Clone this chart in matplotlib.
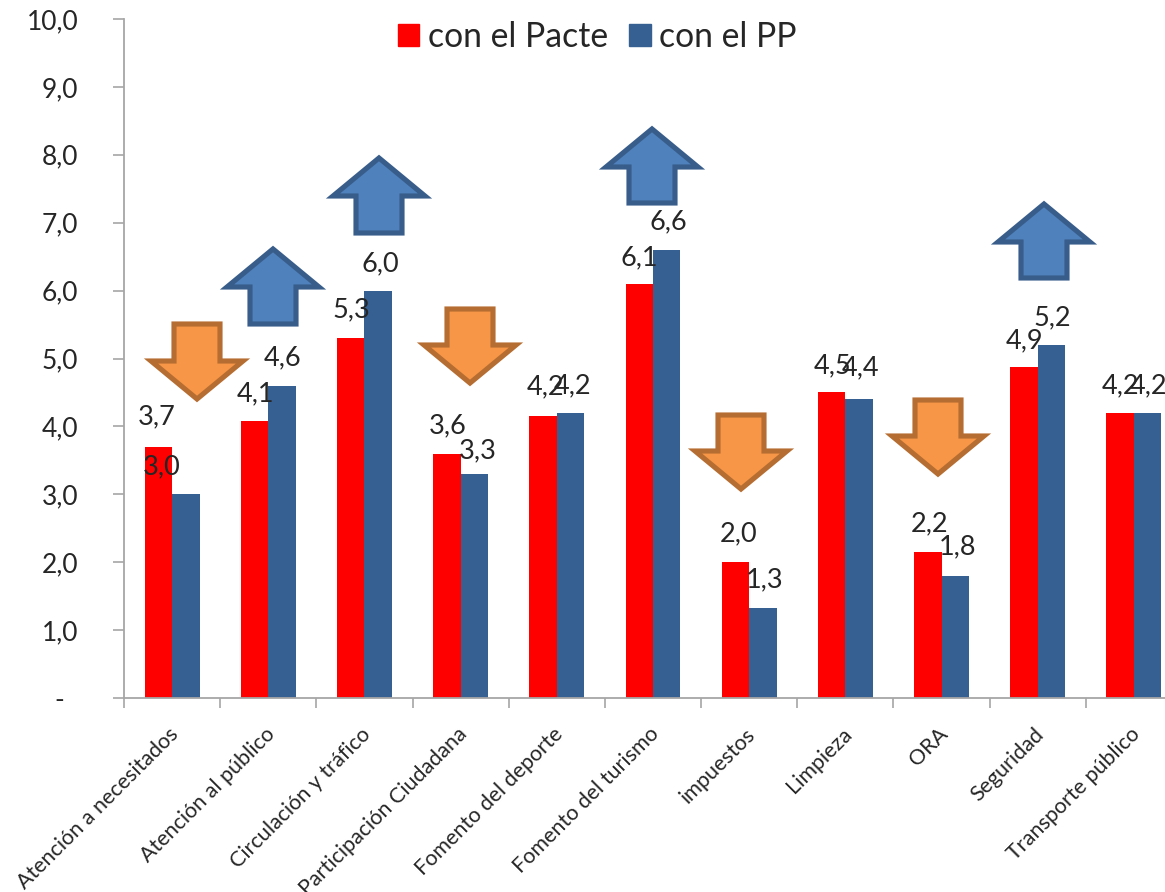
import matplotlib
matplotlib.use("Agg")
import matplotlib.pyplot as plt
import numpy as np
from matplotlib.patches import Polygon, Patch
from matplotlib.transforms import Affine2D

W, H = 1165, 892
categories = ["Atención a necesitados", "Atención al público", "Circulación y tráfico",
              "Participación Ciudadana", "Fomento del deporte", "Fomento del turismo",
              "impuestos", "Limpieza", "ORA", "Seguridad", "Transporte público"]
pacte = [3.7, 4.08, 5.3, 3.6, 4.15, 6.1, 2.0, 4.5, 2.15, 4.87, 4.2]
pp = [3.0, 4.6, 6.0, 3.3, 4.2, 6.6, 1.33, 4.4, 1.8, 5.2, 4.2]
pacte_labels = ["3,7", "4,1", "5,3", "3,6", "4,2", "6,1", "2,0", "4,5", "2,2", "4,9", "4,2"]
pp_labels = ["3,0", "4,6", "6,0", "3,3", "4,2", "6,6", "1,3", "4,4", "1,8", "5,2", "4,2"]
# label offsets from bar top centre, in pixels
pacte_off = [(-2, 30), (1, 27), (1, 28), (1, 28), (2, 29), (0, 26), (3, 28), (1, 27), (2, 28), (1, 27), (0, 27)]
pp_off = [(-24, 27), (1, 28), (2, 27), (3, 23), (2, 27), (2, 28), (2, 28), (1, 31), (2, 29), (1, 27), (1, 27)]
# annotation arrows: tip x, top y, bottom y in image pixels
up_arrows = [(273, 246, 326), (379, 155, 235), (652, 126, 205), (1044, 201, 280)]
down_arrows = [(197, 322, 402), (470, 307, 386), (741, 413, 492), (938, 398, 477)]

FONT = "Lato"
TXT = "#262626"
AX = "#A6A6A6"
plt.rcParams["font.family"] = [FONT, "DejaVu Sans"]

fig = plt.figure(figsize=(W / 100, H / 100), dpi=100)
left, right, top, bottom = 124, 1182, 19, 698
ax = fig.add_axes([left / W, 1 - bottom / H, (right - left) / W, (bottom - top) / H])
ax.set_xlim(0, len(categories))
ax.set_ylim(0, 10)
ax.patch.set_alpha(0)
x = np.arange(len(categories)) + 0.5
bw = 0.285
b1 = ax.bar(x - bw / 2, pacte, bw, color="#FF0000", label="con el Pacte", zorder=2)
b2 = ax.bar(x + bw / 2, pp, bw, color="#376092", label="con el PP", zorder=2)

for sp in ("top", "right"):
    ax.spines[sp].set_visible(False)
for sp in ("left", "bottom"):
    ax.spines[sp].set_color(AX)
    ax.spines[sp].set_linewidth(1.3)
    ax.spines[sp].set_clip_on(False)

ax.set_xticks(np.arange(len(categories) + 1))
ax.set_xticklabels([])
ax.tick_params(axis="x", length=7, color=AX, width=1.2)
yt = list(range(11))
ax.set_yticks(yt)
ax.set_yticklabels(["-  "] + [f"{v},0" for v in yt[1:]], fontsize=19, color=TXT)
ax.tick_params(axis="y", length=8, color=AX, width=1.2, pad=25)

for xi, name in zip(x, categories):
    ax.annotate(name, xy=(xi, 0), xytext=(-4, -26), textcoords="offset pixels",
                rotation=45, ha="right", va="top", rotation_mode="anchor",
                fontsize=15.5, color=TXT, annotation_clip=False)

for xs, vals, labs, offs in ((x - bw / 2, pacte, pacte_labels, pacte_off),
                             (x + bw / 2, pp, pp_labels, pp_off)):
    for xi, v, lab, (dx, dy) in zip(xs, vals, labs, offs):
        ax.annotate(lab, xy=(xi, v), xytext=(dx, dy), textcoords="offset pixels",
                    ha="center", va="center", fontsize=19.5, color=TXT, zorder=6,
                    annotation_clip=False)

px = Affine2D().scale(1 / W, -1 / H).translate(0, 1) + fig.transFigure
HEAD_HALF, SHAFT_HALF, HEAD_LEN = 46, 23, 41

def arrow(cx, y0, y1, up, fc, ec):
    if up:
        hb = y0 + HEAD_LEN
        pts = [(cx, y0 + 3), (cx + HEAD_HALF, hb), (cx + SHAFT_HALF, hb), (cx + SHAFT_HALF, y1 - 2),
               (cx - SHAFT_HALF, y1 - 2), (cx - SHAFT_HALF, hb), (cx - HEAD_HALF, hb)]
    else:
        hb = y1 - HEAD_LEN
        pts = [(cx, y1 - 3), (cx + HEAD_HALF, hb), (cx + SHAFT_HALF, hb), (cx + SHAFT_HALF, y0 + 2),
               (cx - SHAFT_HALF, y0 + 2), (cx - SHAFT_HALF, hb), (cx - HEAD_HALF, hb)]
    fig.add_artist(Polygon(pts, closed=True, transform=px, facecolor=fc, edgecolor=ec,
                           linewidth=3.7, joinstyle="miter", zorder=4))

for cx, y0, y1 in up_arrows:
    arrow(cx, y0, y1, True, "#4F81BD", "#385D8A")
for cx, y0, y1 in down_arrows:
    arrow(cx, y0, y1, False, "#F79646", "#B66D31")

handles = [Patch(color="#FF0000", label="con el Pacte"), Patch(color="#376092", label="con el PP")]
fig.legend(handles=handles, ncols=2, loc="center left", bbox_to_anchor=(398 / W, 1 - 37 / H),
           frameon=False, fontsize=24.3, labelcolor=TXT, handlelength=0.63, handleheight=0.63,
           handletextpad=0.26, columnspacing=0.63, borderpad=0, borderaxespad=0)

fig.savefig("out.png", dpi=100)
